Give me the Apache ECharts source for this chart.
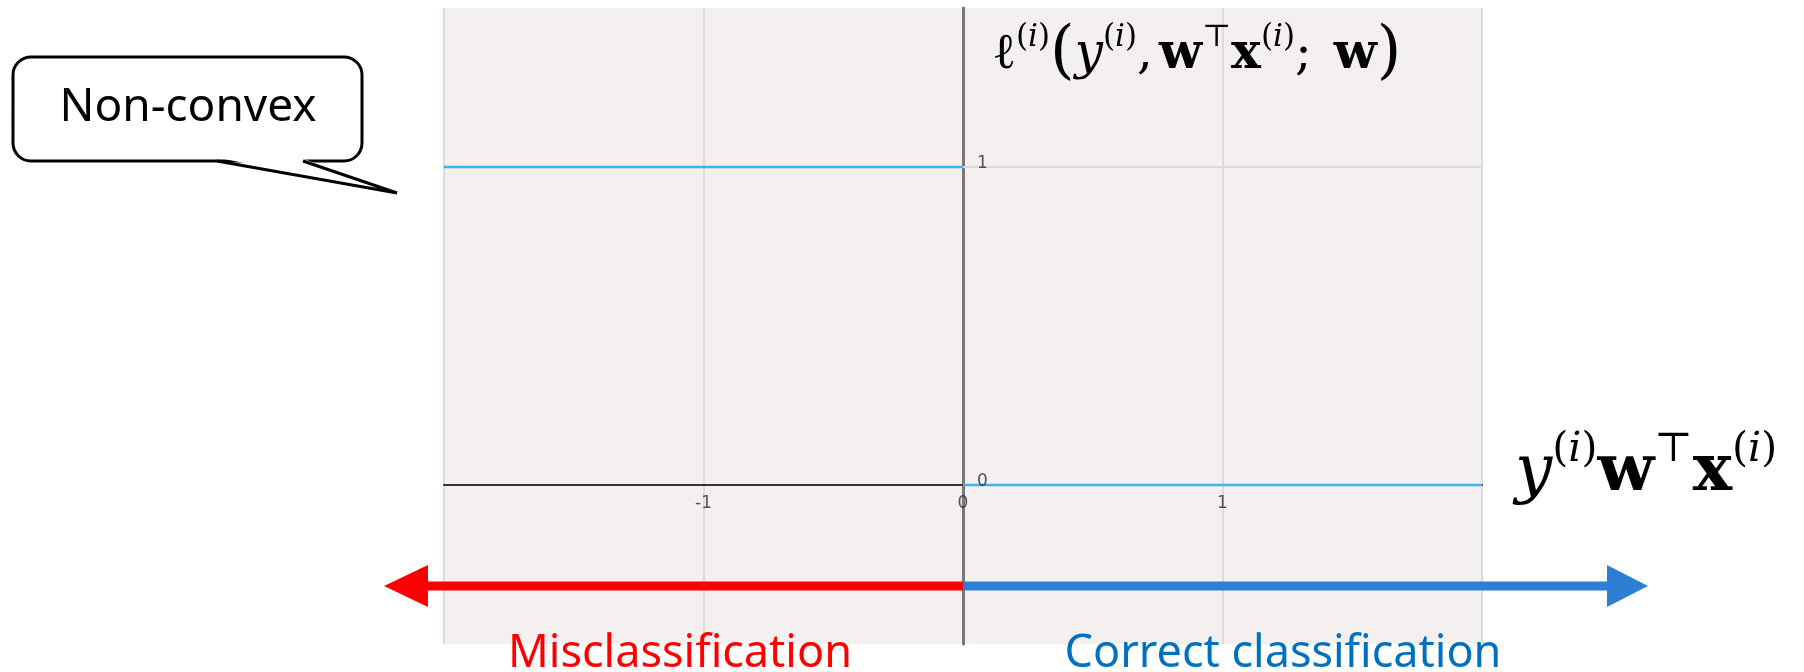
<!DOCTYPE html>
<html><head><meta charset="utf-8">
<script src="https://cdn.jsdelivr.net/npm/echarts@6/dist/echarts.min.js"></script>
<style>html,body{margin:0;padding:0;background:#fff}#c{width:1804px;height:672px}</style>
</head><body><div id="c"></div>
<script>
// ---- data ----
const misX = [-2, 0];      // margin values, misclassified side
const misLoss = [1, 1];    // 0-1 loss there
const corX = [0, 2];       // margin values, correct side
const corLoss = [0, 0];
const xRange = [-2, 2];
const yRange = [-0.5, 1.5];
const xTickValues = [-1, 0, 1];
const yTickValues = [0, 1];
const yGridValues = [1];
const calloutText = 'Non-convex';
const leftLabel = 'Misclassification';
const rightLabel = 'Correct classification';

const chart = echarts.init(document.getElementById('c'), null, {renderer: 'canvas'});
const lossColor = '#3ab4ee';
const gridColor = '#dedada';
const tickFont = {fontSize: 17, color: '#2a2a2a', fontFamily: 'DejaVu Sans'};

const opt = {
  animation: false,
  grid: {left: 444, top: 8, width: 1038, height: 636, show: true, backgroundColor: '#f4f0f0', borderWidth: 0},
  xAxis: {
    type: 'value', min: xRange[0], max: xRange[1], interval: 1,
    axisLine: {onZero: true, lineStyle: {color: '#333', width: 2}},
    axisTick: {show: false},
    axisLabel: {show: false},
    splitLine: {show: true, lineStyle: {color: gridColor, width: 2}}
  },
  yAxis: {
    type: 'value', min: yRange[0], max: yRange[1], interval: 0.5,
    axisLine: {onZero: true, lineStyle: {color: '#777', width: 3}},
    axisTick: {show: false},
    axisLabel: {show: false},
    splitLine: {show: false}
  },
  series: [
    {type: 'line', z: 1, data: [], markLine: {z: 1, silent: true, symbol: 'none', label: {show: false},
      lineStyle: {color: gridColor, width: 2, type: 'solid'}, data: yGridValues.map(v => ({yAxis: v}))}},
    {type: 'line', z: 3, showSymbol: false, data: misX.map((x, i) => [x, misLoss[i]]), lineStyle: {color: lossColor, width: 2.5}},
    {type: 'line', z: 3, showSymbol: false, data: corX.map((x, i) => [x, corLoss[i]]), lineStyle: {color: lossColor, width: 2.5}},
    // tick labels placed through the axes' scales
    {type: 'scatter', z: 4, silent: true, symbolSize: 0, data: xTickValues.map(v => [v, 0]),
      label: Object.assign({show: true, position: 'bottom', distance: 10, formatter: p => String(p.value[0])}, tickFont)},
    {type: 'scatter', z: 4, silent: true, symbolSize: 0, data: yTickValues.map(v => [0, v]),
      label: Object.assign({show: true, position: 'right', distance: 14, offset: [0, -3], formatter: p => String(p.value[1])}, tickFont)}
  ]
};
chart.setOption(opt);

const p0 = chart.convertToPixel({gridIndex: 0}, [0, 0]);
const ay = 586;
const serif = 'DejaVu Serif';
function mathRich(main, sup, mainLH, supLH) {
  return {
    n: {fontSize: main, fontFamily: serif, lineHeight: mainLH, verticalAlign: 'middle', fill: '#000'},
    p: {fontSize: Math.round(main * 1.25), fontFamily: serif, lineHeight: mainLH, verticalAlign: 'middle', fill: '#000'},
    c: {fontSize: main, fontFamily: serif, lineHeight: mainLH, verticalAlign: 'middle', fill: '#000', padding: [0, main * 0.12, 0, 0]},
    y: {fontSize: main, fontFamily: serif, fontStyle: 'italic', lineHeight: mainLH, verticalAlign: 'middle', fill: '#000'},
    b: {fontSize: main, fontFamily: serif, fontWeight: 'bold', lineHeight: mainLH, verticalAlign: 'middle', fill: '#000'},
    s: {fontSize: sup, fontFamily: serif, lineHeight: supLH, verticalAlign: 'top', fill: '#000'},
    si: {fontSize: sup, fontFamily: serif, fontStyle: 'italic', lineHeight: supLH, verticalAlign: 'top', fill: '#000'}
  };
}
const yName = '{n|ℓ}{s|(}{si|i}{s|)}{p|(}{y|y}{s|(}{si|i}{s|)}{c|,}{b|w}{s|⊤}{b|x}{s|(}{si|i}{s|)}{c|;}{n| }{b|w}{p|)}';
const xName = '{y|y}{s|(}{si|i}{s|)}{b|w}{s|⊤}{b|x}{s|(}{si|i}{s|)}';

chart.setOption({
  graphic: [
    // callout
    {type: 'rect', z: 100, shape: {x: 13, y: 57, width: 349, height: 104, r: 18}, style: {fill: '#fff', stroke: '#000', lineWidth: 3}},
    {type: 'polygon', z: 101, shape: {points: [[219, 158], [397, 193], [301, 158]]}, style: {fill: '#fff'}},
    {type: 'polyline', z: 102, shape: {points: [[217, 161], [397, 193], [303, 161]]}, style: {fill: null, stroke: '#000', lineWidth: 3}},
    {type: 'text', z: 103, style: {text: calloutText, x: 188, y: 108, align: 'center', verticalAlign: 'middle',
      fontSize: 46, fontFamily: 'Noto Sans', fill: '#000'}},
    // axis names
    {type: 'text', z: 103, style: {text: yName, x: 992, y: 22, align: 'left', verticalAlign: 'top', rich: mathRich(50, 31, 66, 46)}},
    {type: 'text', z: 103, style: {text: xName, x: 1515, y: 430, align: 'left', verticalAlign: 'top', rich: mathRich(66, 41, 86, 60)}},
    // arrows
    {type: 'line', z: 104, shape: {x1: 426, y1: ay, x2: p0[0], y2: ay}, style: {stroke: '#ff0000', lineWidth: 9}},
    {type: 'polygon', z: 104, shape: {points: [[384, ay], [428, ay - 21], [428, ay + 21]]}, style: {fill: '#ff0000'}},
    {type: 'line', z: 104, shape: {x1: p0[0], y1: ay, x2: 1609, y2: ay}, style: {stroke: '#2d7fd5', lineWidth: 9}},
    {type: 'polygon', z: 104, shape: {points: [[1648, ay], [1607, ay - 21], [1607, ay + 21]]}, style: {fill: '#2d7fd5'}},
    // side labels
    {type: 'text', z: 103, style: {text: leftLabel, x: 680, y: 654, align: 'center', verticalAlign: 'middle',
      fontSize: 45, fontFamily: 'Noto Sans', fill: '#ff0000'}},
    {type: 'text', z: 103, style: {text: rightLabel, x: 1283, y: 654, align: 'center', verticalAlign: 'middle',
      fontSize: 45, fontFamily: 'Noto Sans', fill: '#0070c0'}}
  ]
});
</script></body></html>
